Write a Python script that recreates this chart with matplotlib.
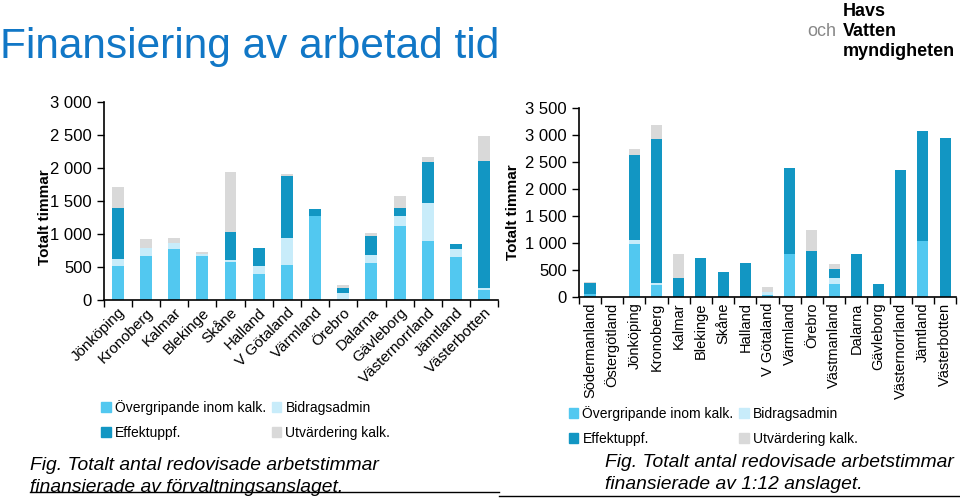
import numpy as np
import matplotlib
matplotlib.use("Agg")
import matplotlib.pyplot as plt
from matplotlib.patches import Patch
from matplotlib.ticker import FuncFormatter, FixedLocator

plt.rcParams['font.family'] = ['Liberation Sans', 'DejaVu Sans']

# left chart: förvaltningsanslaget
lan_left = ['Jönköping', 'Kronoberg', 'Kalmar', 'Blekinge', 'Skåne', 'Halland',
            'V Götaland', 'Värmland', 'Örebro', 'Dalarna', 'Gävleborg',
            'Västernorrland', 'Jämtland', 'Västerbotten']
over_left = [520, 662, 778, 667, 576, 399, 525, 1268, 0, 556, 1116, 899, 657, 152]
bidrag_left = [106, 121, 86, 30, 25, 121, 419, 0, 100, 126, 147, 566, 121, 30]
effekt_left = [773, 0, 0, 0, 424, 268, 925, 116, 85, 293, 136, 626, 76, 1924]
utv_left = [318, 146, 75, 35, 919, 0, 35, 0, 45, 40, 172, 71, 0, 369]

# right chart: 1:12 anslaget
lan_right = ['Södermanland', 'Östergötland', 'Jönköping', 'Kronoberg', 'Kalmar',
             'Blekinge', 'Skåne', 'Halland', 'V Götaland', 'Värmland', 'Örebro',
             'Västmanland', 'Dalarna', 'Gävleborg', 'Västernorrland', 'Jämtland',
             'Västerbotten']
over_right = [50, 0, 983, 223, 0, 0, 0, 0, 40, 785, 0, 241, 0, 0, 0, 1039, 0]
bidrag_right = [10, 0, 62, 43, 0, 0, 0, 0, 50, 0, 0, 118, 0, 0, 0, 0, 0]
effekt_right = [190, 0, 1577, 2665, 346, 717, 458, 625, 0, 1608, 841, 160, 798, 235, 2344, 2028, 2944]
utv_right = [30, 0, 118, 242, 452, 0, 0, 0, 100, 0, 396, 87, 0, 0, 0, 0, 0]

series_names = ['Övergripande inom kalk.', 'Bidragsadmin', 'Effektuppf.', 'Utvärdering kalk.']
colors = ['#52C8F0', '#C8ECFA', '#1296C3', '#D9D9D9']

fig = plt.figure(figsize=(9.6, 4.99), dpi=100)


def thousands(v, pos):
    return f'{int(v):,}'.replace(',', ' ')


def stacked(ax, cats, series, width, ymax, ystep):
    x = np.arange(len(cats))
    bottom = np.zeros(len(cats))
    for vals, col in zip(series, colors):
        vals = np.array(vals, dtype=float)
        ax.bar(x, vals, width, bottom=bottom, color=col, linewidth=0)
        bottom += vals
    ax.set_xlim(-0.5, len(cats) - 0.5)
    ax.set_ylim(0, ymax)
    ax.set_yticks(np.arange(0, ymax + 1, ystep))
    ax.yaxis.set_major_formatter(FuncFormatter(thousands))
    ax.set_xticks(x)
    ax.xaxis.set_minor_locator(FixedLocator(np.arange(-0.5, len(cats), 1)))
    ax.tick_params(axis='x', which='major', length=0, pad=4)
    ax.tick_params(axis='x', which='minor', length=5, width=1)
    ax.tick_params(axis='y', length=5, width=1, labelsize=12)
    for s in ['top', 'right']:
        ax.spines[s].set_visible(False)
    ax.spines['left'].set_linewidth(1.2)
    ax.spines['bottom'].set_linewidth(1.2)
    ax.set_ylabel('Totalt timmar', fontsize=11, fontweight='bold')
    return x


ax1 = fig.add_axes([0.108, 0.399, 0.411, 0.397])
stacked(ax1, lan_left, [over_left, bidrag_left, effekt_left, utv_left], 0.42, 3000, 500)
ax1.set_xticklabels(lan_left, rotation=45, ha='right', rotation_mode='anchor', fontsize=11)
ax1.yaxis.set_label_coords(-0.132, 0.42)

ax2 = fig.add_axes([0.603, 0.405, 0.393, 0.379])
stacked(ax2, lan_right, [over_right, bidrag_right, effekt_right, utv_right], 0.5, 3500, 500)
ax2.set_xticklabels(lan_right, rotation=90, fontsize=10.5)
ax2.yaxis.set_label_coords(-0.157, 0.45)

handles = [Patch(color=colors[0], label=series_names[0]),
           Patch(color=colors[2], label=series_names[2]),
           Patch(color=colors[1], label=series_names[1]),
           Patch(color=colors[3], label=series_names[3])]

fig.legend(handles=handles, ncol=2, loc='upper left', bbox_to_anchor=(0.098, 0.212),
           frameon=False, fontsize=10, handlelength=0.7, handleheight=0.7,
           handletextpad=0.3, columnspacing=0.4, labelspacing=0.75, borderpad=0)
fig.legend(handles=handles, ncol=2, loc='upper left', bbox_to_anchor=(0.585, 0.2),
           frameon=False, fontsize=10, handlelength=0.7, handleheight=0.7,
           handletextpad=0.3, columnspacing=0.4, labelspacing=0.75, borderpad=0)

fig.text(0.0, 0.905, 'Finansiering av arbetad tid', fontsize=30.5, color='#1177C6',
         va='center', ha='left')

# logo text
fig.text(0.878, 0.993, 'Havs', fontsize=13, fontweight='bold', va='top')
fig.text(0.841, 0.953, 'och', fontsize=13, color='#888888', va='top')
fig.text(0.878, 0.953, 'Vatten', fontsize=13, fontweight='bold', va='top')
fig.text(0.878, 0.913, 'myndigheten', fontsize=13, fontweight='bold', va='top')

fig.text(0.031, 0.006, 'Fig. Totalt antal redovisade arbetstimmar\nfinansierade av förvaltningsanslaget.',
         fontsize=13.9, style='italic', va='bottom', linespacing=1.38)
fig.text(0.63, 0.012, 'Fig. Totalt antal redovisade arbetstimmar\nfinansierade av 1:12 anslaget.',
         fontsize=13.9, style='italic', va='bottom', linespacing=1.38)
fig.add_artist(plt.Line2D([0.031, 0.52], [0.015, 0.015], color='black', lw=1))
fig.add_artist(plt.Line2D([0.52, 1.0], [0.007, 0.007], color='black', lw=1))

fig.savefig('out.png', dpi=100)
